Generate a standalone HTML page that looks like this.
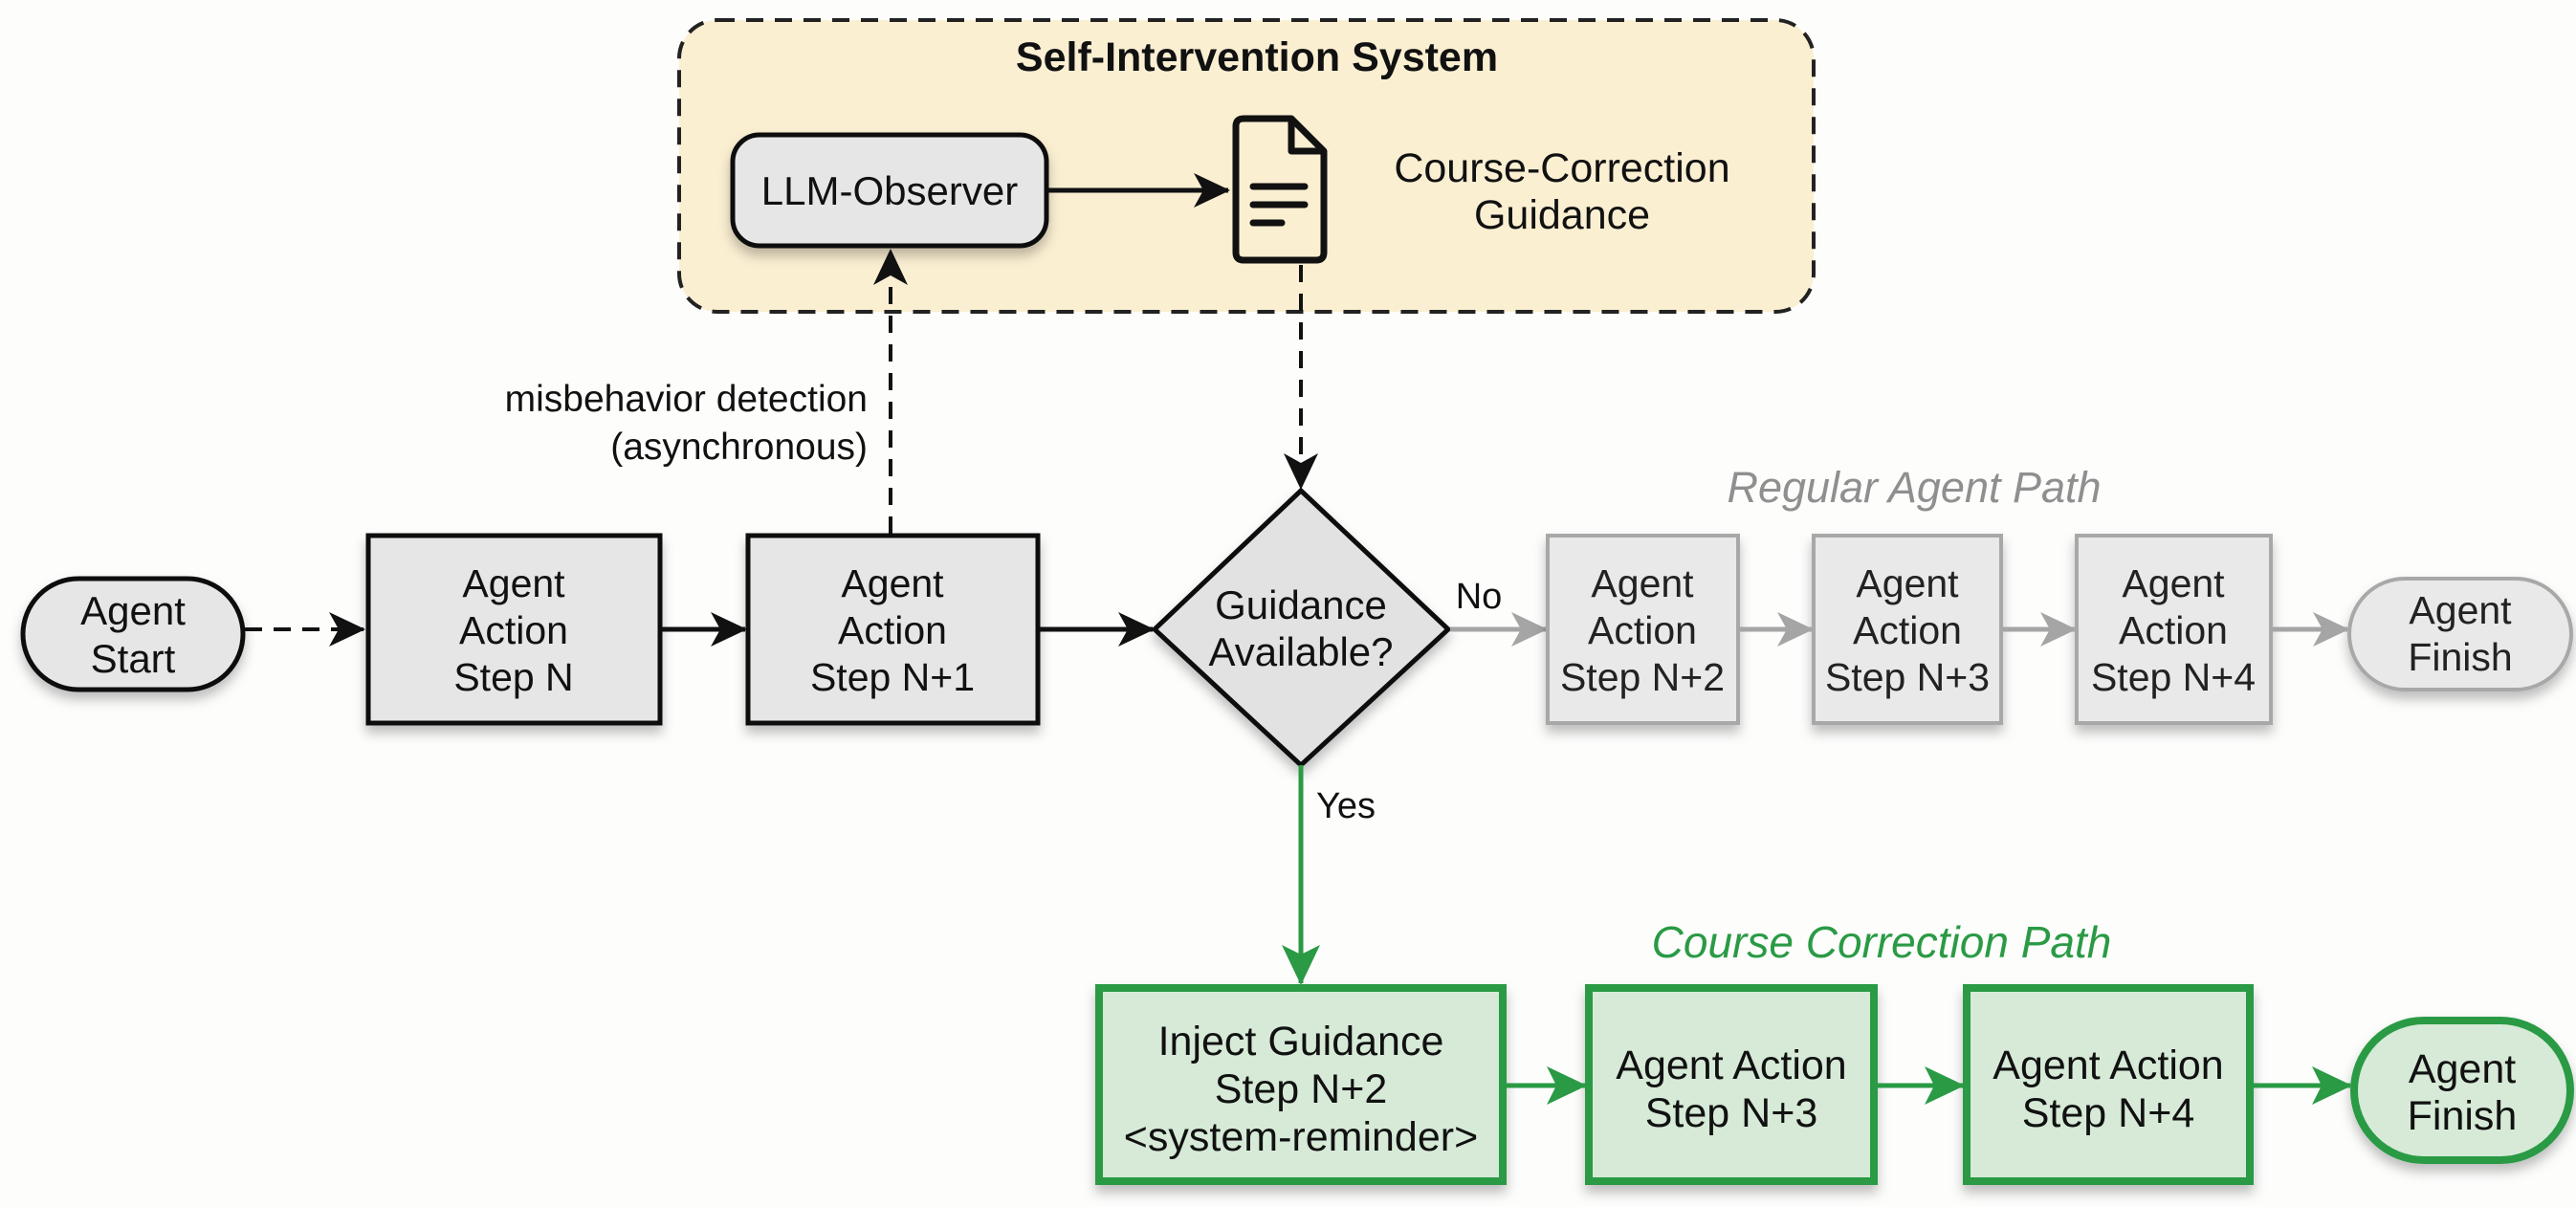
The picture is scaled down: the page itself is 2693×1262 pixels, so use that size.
<!DOCTYPE html>
<html><head><meta charset="utf-8"><style>
html,body{margin:0;padding:0;background:#fdfdfc;}
svg{display:block;}
text{font-family:"Liberation Sans",sans-serif;}
</style></head><body>
<svg width="2693" height="1262" viewBox="0 0 2693 1262" xmlns="http://www.w3.org/2000/svg">
<defs>
<marker id="abk" markerWidth="40" markerHeight="40" refX="36" refY="20" orient="auto" markerUnits="userSpaceOnUse"><path d="M0,2 L38,20 L0,38 L10,20 z" fill="#111"/></marker>
<marker id="agr" markerWidth="40" markerHeight="40" refX="36" refY="20" orient="auto" markerUnits="userSpaceOnUse"><path d="M0,2 L38,20 L0,38 L10,20 z" fill="#a5a5a5"/></marker>
<marker id="agn" markerWidth="44" markerHeight="44" refX="40" refY="22" orient="auto" markerUnits="userSpaceOnUse"><path d="M0,2 L42,22 L0,42 L10,22 z" fill="#2a9a45"/></marker>
<filter id="sh" x="-20%" y="-20%" width="140%" height="150%"><feDropShadow dx="0" dy="8" stdDeviation="6" flood-color="#000" flood-opacity="0.25"/></filter>
</defs>

<rect x="710" y="21" width="1186" height="305" rx="40" fill="#fbefd2" stroke="#222" stroke-width="4" stroke-dasharray="18,12"/>
<text x="1314" y="74" text-anchor="middle" font-size="43" font-weight="bold" fill="#111">Self-Intervention System</text>

<rect x="766" y="141" width="328" height="116" rx="28" fill="#e6e6e6" stroke="#111" stroke-width="5" filter="url(#sh)"/>
<text x="930" y="214" text-anchor="middle" font-size="42" fill="#111">LLM-Observer</text>
<line x1="1096" y1="199" x2="1284" y2="199" stroke="#111" stroke-width="5" marker-end="url(#abk)"/>

<path d="M1300,124 L1350,124 L1384,158 L1384,264 Q1384,272 1376,272 L1300,272 Q1292,272 1292,264 L1292,132 Q1292,124 1300,124 z" fill="#fbefd2" stroke="#111" stroke-width="7" stroke-linejoin="round"/>
<path d="M1350,124 L1350,158 L1384,158" fill="none" stroke="#111" stroke-width="7" stroke-linejoin="round"/>
<line x1="1310" y1="195" x2="1364" y2="195" stroke="#111" stroke-width="7" stroke-linecap="round"/>
<line x1="1310" y1="214" x2="1364" y2="214" stroke="#111" stroke-width="7" stroke-linecap="round"/>
<line x1="1310" y1="233" x2="1340" y2="233" stroke="#111" stroke-width="7" stroke-linecap="round"/>
<text x="1633" y="190" text-anchor="middle" font-size="43" fill="#111">Course-Correction</text>
<text x="1633" y="239" text-anchor="middle" font-size="43" fill="#111">Guidance</text>

<line x1="931" y1="558" x2="931" y2="262" stroke="#111" stroke-width="4" stroke-dasharray="18,12" marker-end="url(#abk)"/>
<text x="907" y="430" text-anchor="end" font-size="39" fill="#111">misbehavior detection</text>
<text x="907" y="480" text-anchor="end" font-size="39" fill="#111">(asynchronous)</text>

<line x1="1360" y1="277" x2="1360" y2="510" stroke="#111" stroke-width="4" stroke-dasharray="18,12" marker-end="url(#abk)"/>

<rect x="24" y="605" width="230" height="116" rx="58" fill="#e6e6e6" stroke="#111" stroke-width="5" filter="url(#sh)"/>
<text x="139" y="653" text-anchor="middle" font-size="42" fill="#111">Agent</text>
<text x="139" y="703" text-anchor="middle" font-size="42" fill="#111">Start</text>
<line x1="256" y1="658" x2="380" y2="658" stroke="#111" stroke-width="4" stroke-dasharray="18,12" marker-end="url(#abk)"/>

<rect x="385" y="560" width="305" height="196" fill="#e6e6e6" stroke="#111" stroke-width="5" filter="url(#sh)"/>
<text x="537" y="624" text-anchor="middle" font-size="41" fill="#111">Agent</text>
<text x="537" y="673" text-anchor="middle" font-size="41" fill="#111">Action</text>
<text x="537" y="722" text-anchor="middle" font-size="41" fill="#111">Step N</text>
<line x1="692" y1="658" x2="779" y2="658" stroke="#111" stroke-width="5" marker-end="url(#abk)"/>

<rect x="782" y="560" width="303" height="196" fill="#e6e6e6" stroke="#111" stroke-width="5" filter="url(#sh)"/>
<text x="933" y="624" text-anchor="middle" font-size="41" fill="#111">Agent</text>
<text x="933" y="673" text-anchor="middle" font-size="41" fill="#111">Action</text>
<text x="933" y="722" text-anchor="middle" font-size="41" fill="#111">Step N+1</text>
<line x1="1087" y1="658" x2="1205" y2="658" stroke="#111" stroke-width="5" marker-end="url(#abk)"/>

<path d="M1360,513 L1514,658 L1360,800 L1207,658 z" fill="#e2e2e2" stroke="#111" stroke-width="5" filter="url(#sh)"/>
<text x="1360" y="647" text-anchor="middle" font-size="42" fill="#111">Guidance</text>
<text x="1360" y="696" text-anchor="middle" font-size="42" fill="#111">Available?</text>

<text x="1546" y="636" text-anchor="middle" font-size="38" fill="#111">No</text>
<line x1="1516" y1="658" x2="1616" y2="658" stroke="#a5a5a5" stroke-width="5" marker-end="url(#agr)"/>

<g fill="#e9e9e9" stroke="#a8a8a8" stroke-width="4" filter="url(#sh)">
<rect x="1618" y="560" width="199" height="196"/>
<rect x="1896" y="560" width="196" height="196"/>
<rect x="2171" y="560" width="203" height="196"/>
<rect x="2456" y="605" width="232" height="116" rx="58"/>
</g>
<g font-size="41" fill="#222" text-anchor="middle">
<text x="1717" y="624">Agent</text><text x="1717" y="673">Action</text><text x="1717" y="722">Step N+2</text>
<text x="1994" y="624">Agent</text><text x="1994" y="673">Action</text><text x="1994" y="722">Step N+3</text>
<text x="2272" y="624">Agent</text><text x="2272" y="673">Action</text><text x="2272" y="722">Step N+4</text>
<text x="2572" y="652">Agent</text><text x="2572" y="701">Finish</text>
</g>
<line x1="1819" y1="658" x2="1894" y2="658" stroke="#a5a5a5" stroke-width="5" marker-end="url(#agr)"/>
<line x1="2094" y1="658" x2="2169" y2="658" stroke="#a5a5a5" stroke-width="5" marker-end="url(#agr)"/>
<line x1="2376" y1="658" x2="2454" y2="658" stroke="#a5a5a5" stroke-width="5" marker-end="url(#agr)"/>
<text x="2001" y="525" text-anchor="middle" font-size="45" font-style="italic" fill="#8f8f8f">Regular Agent Path</text>

<line x1="1360" y1="800" x2="1360" y2="1028" stroke="#2a9a45" stroke-width="5" marker-end="url(#agn)"/>
<text x="1376" y="855" font-size="38" fill="#111">Yes</text>
<text x="1967" y="1001" text-anchor="middle" font-size="46" font-style="italic" fill="#2a9a45">Course Correction Path</text>

<g fill="#d6ead7" stroke="#2a9a45" stroke-width="8" filter="url(#sh)">
<rect x="1149" y="1033" width="422" height="202"/>
<rect x="1661" y="1033" width="298" height="202"/>
<rect x="2056" y="1033" width="296" height="202"/>
<rect x="2461" y="1067" width="226" height="146" rx="73"/>
</g>
<g font-size="43" fill="#111" text-anchor="middle">
<text x="1360" y="1103">Inject Guidance</text><text x="1360" y="1153">Step N+2</text><text x="1360" y="1203">&lt;system-reminder&gt;</text>
<text x="1810" y="1128">Agent Action</text><text x="1810" y="1178">Step N+3</text>
<text x="2204" y="1128">Agent Action</text><text x="2204" y="1178">Step N+4</text>
<text x="2574" y="1132">Agent</text><text x="2574" y="1181">Finish</text>
</g>
<line x1="1575" y1="1135" x2="1657" y2="1135" stroke="#2a9a45" stroke-width="5" marker-end="url(#agn)"/>
<line x1="1963" y1="1135" x2="2052" y2="1135" stroke="#2a9a45" stroke-width="5" marker-end="url(#agn)"/>
<line x1="2356" y1="1135" x2="2457" y2="1135" stroke="#2a9a45" stroke-width="5" marker-end="url(#agn)"/>
</svg>
</body></html>
